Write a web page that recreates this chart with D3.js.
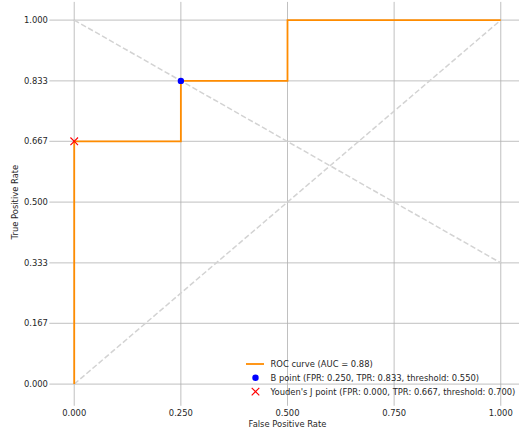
<!DOCTYPE html>
<html>
<head>
<meta charset="utf-8">
<script src="https://cdn.jsdelivr.net/npm/d3@7"></script>
<style>
  body { margin: 0; background: #fff; }
  svg { font-family: 'DejaVu Sans', sans-serif; display: block; }
</style>
</head>
<body>
<div id="chart"></div>
<script>
// ROC curve steps (false positive rate, true positive rate)
const rocFpr = [0, 0, 0.25, 0.25, 0.5, 0.5, 1]
const rocTpr = [0, 0.667, 0.667, 0.833, 0.833, 1, 1]
const auc = 0.88

const bPoint = { fpr: 0.25, tpr: 0.833, threshold: 0.55 }
const youdenPoint = { fpr: 0, tpr: 0.667, threshold: 0.7 }

// reference lines
const chanceLine = [[0, 0], [1, 1]]
const otherDiag = [[0, 1], [1, 0.333]]

const xTicks = [0, 0.25, 0.5, 0.75, 1]
const yTicks = [0, 0.167, 0.333, 0.5, 0.667, 0.833, 1]

const width = 519
const height = 433
const fontSize = 8.4

const xScale = d3.scaleLinear().domain([-0.05, 1.05]).range([52.9, 522.1])
const yScale = d3.scaleLinear().domain([-0.05, 1.05]).range([402.3, 1.9])

const svg = d3.select('#chart')
  .append('svg')
  .attr('width', width)
  .attr('height', height)

// grid
const grid = svg.append('g').attr('class', 'grid')
grid.selectAll('line.v')
  .data(xTicks)
  .join('line')
  .attr('class', 'v')
  .attr('x1', d => xScale(d)).attr('x2', d => xScale(d))
  .attr('y1', yScale.range()[0] + 3.5).attr('y2', yScale.range()[1])
  .attr('stroke', '#b0b0b0').attr('stroke-width', 0.8)
grid.selectAll('line.h')
  .data(yTicks)
  .join('line')
  .attr('class', 'h')
  .attr('x1', xScale.range()[0] - 3.5).attr('x2', xScale.range()[1])
  .attr('y1', d => yScale(d)).attr('y2', d => yScale(d))
  .attr('stroke', '#b0b0b0').attr('stroke-width', 0.8)

// tick labels
svg.append('g')
  .selectAll('text')
  .data(xTicks)
  .join('text')
  .attr('x', d => xScale(d))
  .attr('y', 415.5)
  .attr('text-anchor', 'middle')
  .attr('font-size', fontSize)
  .attr('fill', '#262626')
  .text(d => d3.format('.3f')(d))

svg.append('g')
  .selectAll('text')
  .data(yTicks)
  .join('text')
  .attr('x', xScale.range()[0] - 5)
  .attr('y', d => yScale(d))
  .attr('dy', '0.35em')
  .attr('text-anchor', 'end')
  .attr('font-size', fontSize)
  .attr('fill', '#262626')
  .text(d => d3.format('.3f')(d))

// axis labels
svg.append('text')
  .attr('x', (xScale(0) + xScale(1)) / 2)
  .attr('y', 426.5)
  .attr('text-anchor', 'middle')
  .attr('font-size', fontSize)
  .attr('fill', '#262626')
  .text('False Positive Rate')

svg.append('text')
  .attr('transform', `translate(18,${(yScale(0) + yScale(1)) / 2}) rotate(-90)`)
  .attr('text-anchor', 'middle')
  .attr('font-size', fontSize)
  .attr('fill', '#262626')
  .text('True Positive Rate')

// dashed diagonals
const line = d3.line().x(d => xScale(d[0])).y(d => yScale(d[1]))
svg.selectAll('path.diag')
  .data([chanceLine, otherDiag])
  .join('path')
  .attr('class', 'diag')
  .attr('d', line)
  .attr('fill', 'none')
  .attr('stroke', '#d3d3d3')
  .attr('stroke-width', 1.5)
  .attr('stroke-dasharray', '5.5,2.5')

// ROC curve
const rocData = rocFpr.map((f, i) => [f, rocTpr[i]])
svg.append('path')
  .attr('d', line(rocData))
  .attr('fill', 'none')
  .attr('stroke', '#ff8c00')
  .attr('stroke-width', 1.8)

// B point
svg.append('circle')
  .attr('cx', xScale(bPoint.fpr))
  .attr('cy', yScale(bPoint.tpr))
  .attr('r', 3.2)
  .attr('fill', '#0000ff')

// Youden's J point
const cross = (g, x, y, s) => {
  g.append('path')
    .attr('d', `M${x - s},${y - s}L${x + s},${y + s}M${x - s},${y + s}L${x + s},${y - s}`)
    .attr('stroke', '#ff0000')
    .attr('stroke-width', 1.1)
}
cross(svg, xScale(youdenPoint.fpr), yScale(youdenPoint.tpr), 3.8)

// legend
const fmt = d3.format('.3f')
const legend = svg.append('g').attr('transform', 'translate(246,364)')
const legendItems = [
  `ROC curve (AUC = ${auc.toFixed(2)})`,
  `B point (FPR: ${fmt(bPoint.fpr)}, TPR: ${fmt(bPoint.tpr)}, threshold: ${fmt(bPoint.threshold)})`,
  `Youden's J point (FPR: ${fmt(youdenPoint.fpr)}, TPR: ${fmt(youdenPoint.tpr)}, threshold: ${fmt(youdenPoint.threshold)})`,
]
legend.selectAll('text')
  .data(legendItems)
  .join('text')
  .attr('x', 24.5)
  .attr('y', (d, i) => i * 13.8)
  .attr('dy', '0.35em')
  .attr('font-size', fontSize)
  .attr('fill', '#262626')
  .text(d => d)
legend.append('line')
  .attr('x1', 0).attr('x2', 18).attr('y1', 0).attr('y2', 0)
  .attr('stroke', '#ff8c00').attr('stroke-width', 1.8)
legend.append('circle')
  .attr('cx', 9.5).attr('cy', 13.8).attr('r', 3.2).attr('fill', '#0000ff')
cross(legend, 9.5, 27.6, 3.8)
</script>
</body>
</html>
